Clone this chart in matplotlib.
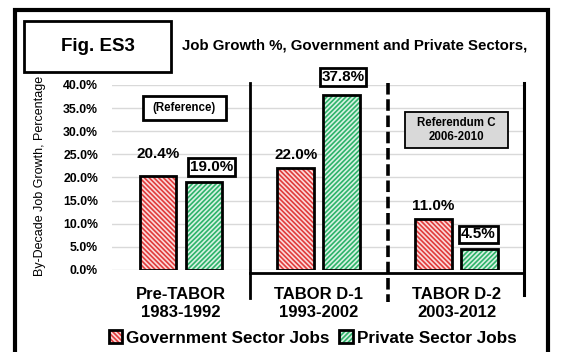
import matplotlib
matplotlib.use("Agg")
import matplotlib.pyplot as plt
from matplotlib.patches import Rectangle, Patch
import numpy as np

plt.rcParams['font.family'] = ['Liberation Sans', 'DejaVu Sans']
plt.rcParams['hatch.linewidth'] = 1.2

# data
periods = ["Pre-TABOR\n1983-1992", "TABOR D-1\n1993-2002", "TABOR D-2\n2003-2012"]
gov_growth = [20.4, 22.0, 11.0]
priv_growth = [19.0, 37.8, 4.5]
yticks = [0, 5, 10, 15, 20, 25, 30, 35, 40]

red = '#e03c3c'
green = '#2eb36a'
gov_face = '#fbdada'
priv_face = '#d8f2e3'
gov_hatch = '\\' * 7
priv_hatch = '/' * 7
x = np.arange(len(periods))
off = 0.167
w = 0.265

fig = plt.figure(figsize=(5.61, 3.52), dpi=100)
ax = fig.add_axes([0.1996, 0.233, 0.737, 0.5256])

# hatched fill, then black outline on top
ax.bar(x - off, gov_growth, w, facecolor=gov_face, edgecolor=red, hatch=gov_hatch, linewidth=0, zorder=3)
ax.bar(x + off, priv_growth, w, facecolor=priv_face, edgecolor=green, hatch=priv_hatch, linewidth=0, zorder=3)
ax.bar(x - off, gov_growth, w, facecolor='none', edgecolor='black', linewidth=2, zorder=4)
ax.bar(x + off, priv_growth, w, facecolor='none', edgecolor='black', linewidth=2, zorder=4)

ax.set_xlim(-0.5, 2.5)
ax.set_ylim(0, 40)
ax.set_yticks(yticks)
ax.set_yticklabels(['%.1f%%' % v for v in yticks], fontsize=8.8, fontweight='bold')
ax.set_xticks(x)
ax.set_xticklabels(periods, fontsize=12, fontweight='bold', linespacing=1.3)
ax.tick_params(axis='both', length=0)
ax.tick_params(axis='y', pad=10)
ax.tick_params(axis='x', pad=12)
for s in ax.spines.values():
    s.set_visible(False)
ax.yaxis.grid(True, color='#d9d9d9', linewidth=1, zorder=0)
ax.set_axisbelow(True)

# period separators
ax.plot([0.5, 0.5], [40.5, -6.0], color='black', lw=2, clip_on=False, zorder=5)
ax.plot([1.5, 1.5], [40.5, -6.9], color='black', lw=2.6, ls=(0, (3.2, 1.3)), clip_on=False, zorder=5)
ax.plot([2.49, 2.49], [40.5, -5.4], color='black', lw=2.2, clip_on=False, zorder=5)
ax.plot([0.5, 2.49], [-0.6, -0.6], color='black', lw=2, clip_on=False, zorder=5)

# value labels
lab_fs = 11
ax.text(0 - off, 25.1, '20.4%', ha='center', va='center', fontsize=lab_fs, fontweight='bold')
ax.text(1 - off, 24.9, '22.0%', ha='center', va='center', fontsize=lab_fs, fontweight='bold')
ax.text(2 - off, 13.8, '11.0%', ha='center', va='center', fontsize=lab_fs, fontweight='bold')
boxed = dict(boxstyle='square,pad=0.12', facecolor='white', edgecolor='black', linewidth=2)
ax.text(0 + 0.221, 22.3, '19.0%', ha='center', va='center', fontsize=lab_fs, fontweight='bold', bbox=boxed, zorder=6)
ax.text(1 + 0.176, 41.7, '37.8%', ha='center', va='center', fontsize=lab_fs, fontweight='bold', bbox=boxed, zorder=6, clip_on=False)
ax.text(2 + 0.16, 7.7, '4.5%', ha='center', va='center', fontsize=lab_fs, fontweight='bold', bbox=boxed, zorder=6)

# annotation boxes
ax.add_patch(Rectangle((-0.276, 32.4), 0.603, 5.2, facecolor='white', edgecolor='black', linewidth=2, zorder=6))
ax.text(0.025, 35.0, '(Reference)', ha='center', va='center', fontsize=8.3, fontweight='bold', zorder=7)
ax.add_patch(Rectangle((1.625, 26.4), 0.748, 7.8, facecolor='#d9d9d9', edgecolor='black', linewidth=1.3, zorder=6))
ax.text(2.0, 30.3, 'Referendum C\n2006-2010', ha='center', va='center', fontsize=8.3, fontweight='bold',
        linespacing=1.15, zorder=7)

# legend with hatch + black outline overlaid
h_gov = (Patch(facecolor=gov_face, edgecolor=red, hatch=gov_hatch, linewidth=0),
         Patch(facecolor='none', edgecolor='black', linewidth=2))
h_priv = (Patch(facecolor=priv_face, edgecolor=green, hatch=priv_hatch, linewidth=0),
          Patch(facecolor='none', edgecolor='black', linewidth=2))
fig.legend([h_gov, h_priv], ['Government Sector Jobs', 'Private Sector Jobs'],
           loc='center', bbox_to_anchor=(0.557, 0.04), ncol=2, frameon=False,
           prop={'size': 12.3, 'weight': 'bold'}, handlelength=0.8, handleheight=0.8,
           handletextpad=0.2, columnspacing=0.6, borderaxespad=0)

# y label, title, fig tag, frame
fig.text(40 / 561, 0.5, 'By-Decade Job Growth, Percentage', rotation=90, ha='center', va='center', fontsize=9)
fig.text(0.632, 0.872, 'Job Growth %, Government and Private Sectors,', ha='center', va='center',
         fontsize=10.8, fontweight='bold')
fig.patches.append(Rectangle((24 / 561, 1 - 72 / 352), 147 / 561, 51 / 352, transform=fig.transFigure,
                             facecolor='white', edgecolor='black', linewidth=2))
fig.text(97.5 / 561, 1 - 46.5 / 352, 'Fig. ES3', ha='center', va='center', fontsize=13.5, fontweight='bold')
fig.patches.append(Rectangle((15 / 561, -0.1), 533 / 561, 1.1 - 10 / 352, transform=fig.transFigure,
                             facecolor='none', edgecolor='black', linewidth=3))

fig.savefig('out.png', dpi=100)
